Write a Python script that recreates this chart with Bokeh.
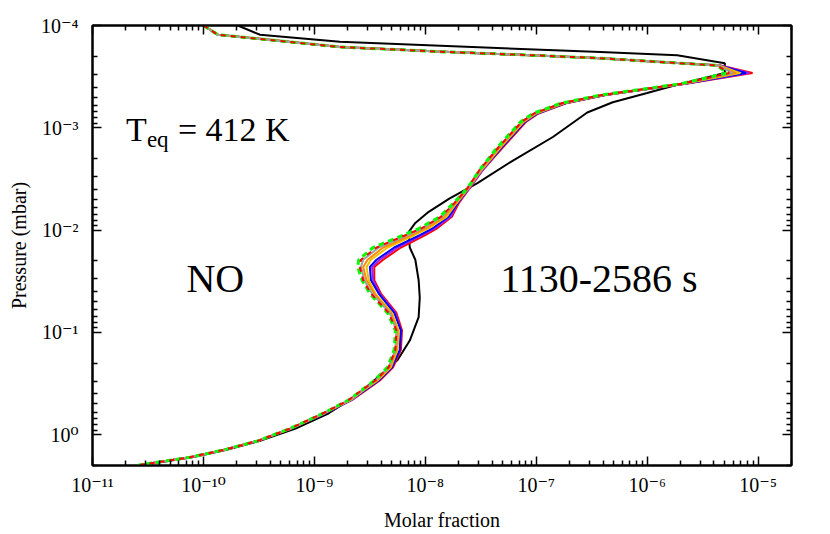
from bokeh.plotting import figure
from bokeh.models import Range1d, LogAxis, FixedTicker, Label, CustomJSTickFormatter
from bokeh.embed import file_html
from bokeh.resources import INLINE

# log10 of pressure (mbar) levels of the model profiles
log_pressure = [-4.00, -3.91, -3.79, -3.74, -3.71, -3.68, -3.64, -3.61, -3.535, -3.43,
                -3.32, -3.24, -3.14, -3.06, -2.81, -2.59, -2.41, -2.26, -2.13, -2.02,
                -1.95, -1.83, -1.71, -1.64, -1.51, -1.38, -1.19, -1.02, -0.83, -0.66,
                -0.53, -0.43, -0.34, -0.21, -0.06, 0.06, 0.15, 0.22, 0.30]

# log10 of NO molar fraction for each time snapshot (1130-2586 s)
no_red = [-10.00, -9.87, -8.77, -7.78, -7.05, -6.42, -5.84, -5.34, -5.05, -5.65,
          -6.37, -6.73, -6.98, -7.09, -7.30, -7.48, -7.60, -7.70, -7.76, -7.89,
          -8.00, -8.22, -8.38, -8.46, -8.46, -8.40, -8.26, -8.21, -8.22, -8.29,
          -8.41, -8.54, -8.66, -8.90, -9.21, -9.51, -9.82, -10.12, -10.60]
no_purple = [-10.00, -9.87, -8.77, -7.78, -7.05, -6.42, -5.84, -5.34, -5.08, -5.66,
             -6.38, -6.74, -6.99, -7.10, -7.31, -7.48, -7.60, -7.71, -7.77, -7.91,
             -8.03, -8.25, -8.41, -8.48, -8.47, -8.41, -8.27, -8.22, -8.23, -8.30,
             -8.42, -8.55, -8.66, -8.90, -9.21, -9.51, -9.82, -10.12, -10.60]
no_blue = [-10.00, -9.87, -8.77, -7.78, -7.05, -6.42, -5.84, -5.35, -5.11, -5.66,
           -6.38, -6.74, -6.99, -7.10, -7.31, -7.49, -7.61, -7.71, -7.79, -7.93,
           -8.05, -8.28, -8.44, -8.50, -8.49, -8.42, -8.28, -8.22, -8.23, -8.30,
           -8.42, -8.55, -8.67, -8.90, -9.21, -9.51, -9.82, -10.12, -10.60]
no_gold = [-10.00, -9.87, -8.77, -7.78, -7.05, -6.42, -5.84, -5.35, -5.16, -5.67,
           -6.39, -6.75, -7.00, -7.11, -7.32, -7.49, -7.61, -7.72, -7.81, -7.97,
           -8.10, -8.34, -8.49, -8.53, -8.51, -8.45, -8.30, -8.24, -8.25, -8.31,
           -8.43, -8.56, -8.67, -8.91, -9.21, -9.51, -9.82, -10.12, -10.60]
no_orange = [-10.00, -9.87, -8.77, -7.78, -7.05, -6.42, -5.84, -5.36, -5.20, -5.68,
             -6.40, -6.76, -7.01, -7.12, -7.33, -7.50, -7.61, -7.73, -7.83, -7.99,
             -8.13, -8.38, -8.52, -8.56, -8.53, -8.46, -8.31, -8.25, -8.26, -8.32,
             -8.44, -8.57, -8.68, -8.91, -9.22, -9.51, -9.82, -10.12, -10.60]
no_gray = [-10.00, -9.88, -8.78, -7.78, -7.05, -6.42, -5.84, -5.36, -5.23, -5.69,
           -6.41, -6.77, -7.02, -7.13, -7.34, -7.50, -7.62, -7.74, -7.85, -8.02,
           -8.16, -8.42, -8.56, -8.58, -8.55, -8.48, -8.32, -8.26, -8.27, -8.33,
           -8.45, -8.57, -8.68, -8.92, -9.22, -9.51, -9.82, -10.12, -10.60]
no_red_dashed = [-10.00, -9.87, -8.77, -7.78, -7.05, -6.42, -5.84, -5.37, -5.26, -5.69,
                 -6.41, -6.77, -7.02, -7.13, -7.34, -7.51, -7.62, -7.74, -7.86, -8.03,
                 -8.18, -8.44, -8.58, -8.59, -8.56, -8.49, -8.33, -8.26, -8.27, -8.33,
                 -8.45, -8.58, -8.69, -8.92, -9.22, -9.51, -9.82, -10.12, -10.60]
no_green_dashed = [-10.00, -9.87, -8.77, -7.78, -7.05, -6.42, -5.84, -5.37, -5.28, -5.70,
                   -6.42, -6.78, -7.03, -7.14, -7.35, -7.51, -7.62, -7.75, -7.87, -8.05,
                   -8.20, -8.47, -8.60, -8.61, -8.57, -8.50, -8.34, -8.27, -8.28, -8.34,
                   -8.46, -8.58, -8.69, -8.92, -9.22, -9.51, -9.82, -10.12, -10.60]

# black reference profile
black_log_pressure = [-4.00, -3.91, -3.84, -3.74, -3.71, -3.63, -3.535, -3.42, -3.34, -3.25,
                      -3.15, -2.91, -2.68, -2.46, -2.31, -2.17, -2.07, -1.98, -1.83, -1.71,
                      -1.51, -1.34, -1.15, -0.92, -0.73, -0.56, -0.43, -0.34, -0.21, -0.06,
                      0.06, 0.15, 0.22, 0.27, 0.30]
no_black = [-9.69, -9.49, -8.77, -6.42, -5.73, -5.30, -5.30, -5.73, -6.00, -6.31,
            -6.54, -6.85, -7.21, -7.53, -7.78, -7.98, -8.09, -8.15, -8.14, -8.09,
            -8.06, -8.05, -8.06, -8.14, -8.25, -8.43, -8.57, -8.68, -8.87, -9.17,
            -9.49, -9.80, -10.10, -10.39, -10.59]

x_decades = [-11, -10, -9, -8, -7, -6, -5]
y_decades = [-4, -3, -2, -1, 0]

FONT = "Liberation Serif"
TICK_FONT = "'Liberation Serif', 'DejaVu Serif'"

p = figure(width=830, height=534, x_axis_type="log", y_axis_type="log",
           x_range=Range1d(1e-11, 2e-5), y_range=Range1d(2.0, 1e-4),
           output_backend="svg", toolbar_location=None,
           min_border_left=92, min_border_right=39, min_border_top=25, min_border_bottom=69)
p.grid.visible = False
p.outline_line_color = "black"
p.outline_line_width = 2
p.background_fill_color = "white"
p.border_fill_color = "white"

xt = FixedTicker(ticks=[10.0 ** d for d in x_decades],
                 minor_ticks=[m * 10.0 ** d for d in x_decades for m in range(2, 10) if m * 10.0 ** d <= 2e-5])
yt = FixedTicker(ticks=[10.0 ** d for d in y_decades],
                 minor_ticks=[m * 10.0 ** d for d in y_decades for m in range(2, 10) if m * 10.0 ** d <= 2.0])

fmt = CustomJSTickFormatter(code="""
const sup = {'-':'\\u207b','0':'\\u2070','1':'\\u00b9','2':'\\u00b2','3':'\\u00b3','4':'\\u2074',
             '5':'\\u2075','6':'\\u2076','7':'\\u2077','8':'\\u2078','9':'\\u2079'};
const e = Math.round(Math.log10(tick));
return '10' + String(e).split('').map(c => sup[c]).join('');
""")

def style_axis(ax, ticker, labels):
    ax.ticker = ticker
    ax.axis_line_width = 2
    ax.major_tick_in = 9
    ax.major_tick_out = 0
    ax.minor_tick_in = 5
    ax.minor_tick_out = 0
    ax.major_tick_line_width = 1.5
    ax.minor_tick_line_width = 1.5
    ax.major_tick_line_color = "black"
    ax.minor_tick_line_color = "black"
    ax.major_label_text_font = TICK_FONT
    if labels:
        ax.formatter = fmt
        ax.major_label_text_font_size = "20px"
        ax.major_label_text_color = "black"
    else:
        ax.major_label_text_font_size = "2px"
        ax.major_label_text_alpha = 0.0
        ax.major_label_standoff = 0
    ax.axis_label_text_font = FONT
    ax.axis_label_text_font_size = "20px"
    ax.axis_label_text_font_style = "normal"
    ax.axis_label_text_color = "black"

style_axis(p.xaxis[0], xt, True)
style_axis(p.yaxis[0], yt, True)
p.xaxis[0].axis_label = "Molar fraction"
p.yaxis[0].axis_label = "Pressure (mbar)"
p.xaxis[0].major_label_standoff = 8
p.xaxis[0].axis_label_standoff = 10
p.yaxis[0].major_label_standoff = 14
p.yaxis[0].axis_label_standoff = 8

top = LogAxis()
style_axis(top, xt, False)
p.add_layout(top, "above")
right = LogAxis()
style_axis(right, yt, False)
p.add_layout(right, "right")

P = [10.0 ** v for v in log_pressure]
Pb = [10.0 ** v for v in black_log_pressure]

p.line([10.0 ** v for v in no_black], Pb, line_color="black", line_width=2)

solid = [(no_red, "#ff0000"), (no_purple, "#a020f0"), (no_blue, "#0000ff"),
         (no_gold, "#f0c000"), (no_orange, "#ff8c00"), (no_gray, "#a0a0a0")]
for vals, col in solid:
    p.line([10.0 ** v for v in vals], P, line_color=col, line_width=2)

p.line([10.0 ** v for v in no_green_dashed], P, line_color="#00ff00", line_width=3,
       line_dash="6 4")
p.line([10.0 ** v for v in no_red_dashed], P, line_color="#ff0000", line_width=2,
       line_dash="5 5")

# annotations
p.add_layout(Label(x=2.0e-11, y=1.56e-3, text="T", text_font=FONT, text_font_size="34px",
                   text_color="black"))
p.add_layout(Label(x=2.0e-11, y=1.56e-3, x_offset=21, y_offset=-4, text="eq", text_font=FONT,
                   text_font_size="23px", text_color="black"))
p.add_layout(Label(x=2.0e-11, y=1.56e-3, x_offset=52, text="= 412 K", text_font=FONT,
                   text_font_size="34px", text_color="black"))
p.add_layout(Label(x=7.03e-11, y=0.049, text="NO", text_font=FONT, text_font_size="40px",
                   text_color="black"))
p.add_layout(Label(x=4.74e-8, y=0.049, text="1130-2586 s", text_font=FONT,
                   text_font_size="40px", text_color="black"))

open("out.html", "w").write(file_html(p, INLINE))
